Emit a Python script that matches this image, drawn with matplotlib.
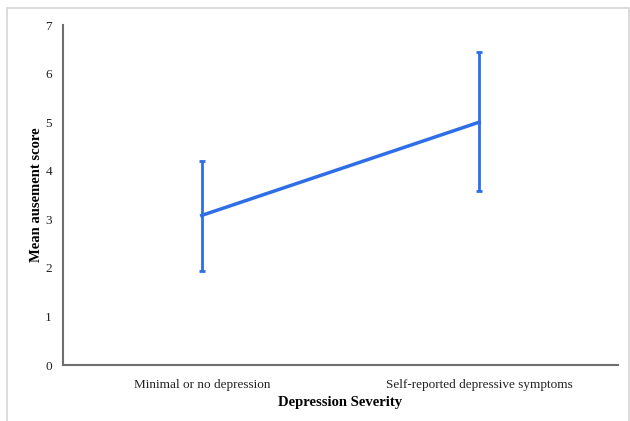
import matplotlib.pyplot as plt
from matplotlib.patches import Rectangle

categories = ['Minimal or no depression', 'Self-reported depressive symptoms']
means = [3.08, 5.0]
err_upper = [4.2, 6.44]
err_lower = [1.94, 3.58]

plt.rcParams['font.family'] = ['Liberation Serif', 'DejaVu Serif']

fig = plt.figure(figsize=(6.3, 4.21), dpi=100)
ax = fig.add_axes([63/630, 1-365/421, 555/630, 340/421])

# outer frame around the chart area
fig.patches.append(Rectangle((7/630, -0.01), 622/630, 1-8/421+0.01,
                             transform=fig.transFigure, fill=False,
                             edgecolor='#d6d6d6', linewidth=1.2))

x = list(range(len(categories)))
yerr = [[m - lo for m, lo in zip(means, err_lower)],
        [hi - m for m, hi in zip(means, err_upper)]]
ax.errorbar(x, means, yerr=yerr, color='#2e6ee6', linewidth=2.5,
            elinewidth=2, capsize=2.5, capthick=2)

ax.set_xlim(-0.5, 1.5)
ax.set_ylim(0, 7)
ax.set_xticks(x)
ax.set_xticklabels(categories, fontsize=9.5)
ax.set_yticks(range(8))
ax.tick_params(axis='both', length=0, labelsize=9.5, colors='#222222', pad=8)
ax.tick_params(axis='x', pad=10)

for s in ['top', 'right']:
    ax.spines[s].set_visible(False)
for s in ['left', 'bottom']:
    ax.spines[s].set_color('#6e6e6e')
    ax.spines[s].set_linewidth(1.5)

ax.set_xlabel('Depression Severity', fontsize=10.5, fontweight='bold', labelpad=4)
ax.set_ylabel('Mean ausement score', fontsize=10.5, fontweight='bold', labelpad=0)
ax.yaxis.set_label_coords(-20/555, 0.5)

fig.savefig('out.png', dpi=100)
